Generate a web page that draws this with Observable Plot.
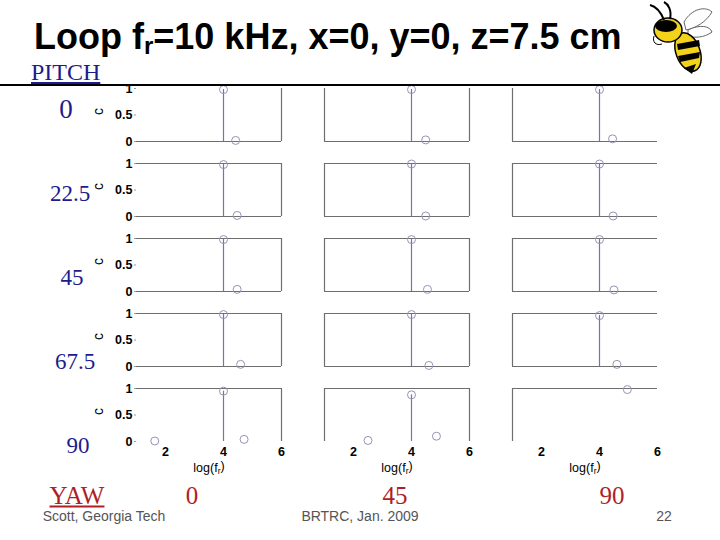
<!DOCTYPE html>
<html>
<head>
<meta charset="utf-8">
<script src="https://cdn.jsdelivr.net/npm/d3@7"></script>
<script src="https://cdn.jsdelivr.net/npm/@observablehq/plot@0.6"></script>
<style>
  html, body { margin: 0; padding: 0; background: #fff; }
  #slide { position: relative; width: 720px; height: 540px; overflow: hidden; background: #fff; }
  #slide > * { position: absolute; }
  .serif { font-family: "Liberation Serif", "Times New Roman", serif; }
  .sans { font-family: "Liberation Sans", Arial, sans-serif; }
  .pitch { color: #1c1c8c; font-size: 23px; line-height: 1; transform: translate(-50%, -50%); white-space: nowrap; }
  .yaw { color: #b01e28; font-size: 25px; line-height: 1; transform: translate(-50%, -50%); white-space: nowrap; }
  .foot { color: #555; font-size: 14px; line-height: 1; transform: translate(-50%, -50%); white-space: nowrap; }
</style>
</head>
<body>
<div id="slide">
  <div id="chart" style="left:0;top:0;"></div>
  <svg width="720" height="80" style="left:0;top:0;">
    <text x="34" y="49" class="sans" font-weight="bold" font-size="36" fill="#000">Loop f<tspan font-size="24" dy="5">r</tspan><tspan dy="-5">=10 kHz, x=0, y=0, z=7.5 cm</tspan></text>
  </svg>
  <svg width="72" height="80" style="left:644px;top:0px;" viewBox="0 0 72 80">
    <path d="M40 22 C48 8, 62 6, 68 12 C62 22, 52 28, 42 30 Z" fill="#fff" stroke="#666" stroke-width="1"/>
    <path d="M44 30 C56 24, 66 26, 68 32 C60 38, 50 38, 44 36 Z" fill="#fff" stroke="#666" stroke-width="1"/>
    <ellipse cx="44" cy="52" rx="12" ry="20" fill="#f2d21b" stroke="#000" stroke-width="1.5" transform="rotate(-20 44 52)"/>
    <path d="M33 44 L55 40 L56 46 L34 50 Z" fill="#000"/>
    <path d="M34 56 L56 52 L55 58 L36 62 Z" fill="#000"/>
    <path d="M40 68 L52 64 L48 74 Z" fill="#000"/>
    <ellipse cx="24" cy="30" rx="14" ry="12" fill="#f2d21b" stroke="#000" stroke-width="1.5"/>
    <ellipse cx="22" cy="26" rx="11" ry="6" fill="#000"/>
    <path d="M20 20 C16 10, 10 6, 6 5" fill="none" stroke="#000" stroke-width="2"/>
    <path d="M26 19 C28 10, 24 4, 20 2" fill="none" stroke="#000" stroke-width="2"/>
    <path d="M10 36 C8 42, 12 46, 18 44" fill="#fff" stroke="#000" stroke-width="1"/>
  </svg>
  <div class="serif" style="left:31px;top:60px;color:#1c1c8c;font-size:24px;line-height:1;text-decoration:underline;">PITCH</div>
  <div style="left:0;top:84px;width:720px;height:1.5px;background:#000;"></div>
  <div class="serif pitch" style="left:66px;top:109px;font-size:27px;">0</div>
  <div class="serif pitch" style="left:70px;top:193px;">22.5</div>
  <div class="serif pitch" style="left:72px;top:277px;">45</div>
  <div class="serif pitch" style="left:75px;top:361px;">67.5</div>
  <div class="serif pitch" style="left:78px;top:445px;">90</div>
  <div class="serif yaw" style="left:77px;top:495px;text-decoration:underline;">YAW</div>
  <div class="serif yaw" style="left:192px;top:495px;">0</div>
  <div class="serif yaw" style="left:395px;top:495px;">45</div>
  <div class="serif yaw" style="left:612px;top:495px;">90</div>
  <div class="sans foot" style="left:104px;top:516px;">Scott, Georgia Tech</div>
  <div class="sans foot" style="left:360px;top:516px;">BRTRC, Jan. 2009</div>
  <div class="sans foot" style="left:664px;top:516px;">22</div>
</div>
<script>
// Facet categories
const yaws = [0, 45, 90];
const pitches = [0, 22.5, 45, 67.5, 90];
// Tick values
const yTicks = [0, 0.5, 1];
const xTicks = [2, 4, 6];

// Points (one entry per circle marker)
const pointYaw   = [0, 0,   0, 0,   0, 0,   0, 0,   0, 0, 0,
                    45, 45, 45, 45, 45, 45, 45, 45, 45, 45, 45,
                    90, 90, 90, 90, 90, 90, 90, 90, 90];
const pointPitch = [0, 0, 22.5, 22.5, 45, 45, 67.5, 67.5, 90, 90, 90,
                    0, 0, 22.5, 22.5, 45, 45, 67.5, 67.5, 90, 90, 90,
                    0, 0, 22.5, 22.5, 45, 45, 67.5, 67.5, 90];
const pointLogF  = [4, 4.42, 4, 4.47, 4, 4.47, 4, 4.59, 4, 1.63, 4.71,
                    4, 4.49, 4, 4.49, 4, 4.55, 4, 4.60, 4, 2.50, 4.86,
                    4, 4.45, 4, 4.47, 4, 4.50, 4, 4.60, 4.96];
const pointC     = [0.98, 0.02, 0.98, 0.02, 0.98, 0.04, 0.98, 0.04, 0.95, 0.01, 0.04,
                    0.98, 0.03, 0.99, 0.01, 0.98, 0.04, 0.98, 0.02, 0.88, 0.02, 0.10,
                    0.98, 0.05, 0.99, 0.01, 0.98, 0.03, 0.96, 0.04, 0.98];
const pointStem  = [1, 0, 1, 0, 1, 0, 1, 0, 1, 0, 0,
                    1, 0, 1, 0, 1, 0, 1, 0, 1, 0, 0,
                    1, 0, 1, 0, 1, 0, 1, 0, 0];

const points = pointYaw.map((yaw, i) => ({
  yaw, pitch: pointPitch[i], logf: pointLogF[i], c: pointC[i], stem: pointStem[i] === 1
}));
const stems = points.filter(d => d.stem);

const cells = yaws.flatMap(yaw => pitches.map(pitch => ({yaw, pitch})));
const bottomEdges = cells.filter(d => d.pitch !== 90);
const topEdges = cells.filter(d => d.pitch !== 0);
const leftEdges = cells.filter(d => d.yaw !== 0);
const rightEdges = cells.filter(d => d.yaw !== 90);

const frameColor = "#6e6e6e";

const chart = Plot.plot({
  width: 720,
  height: 540,
  marginLeft: 135,
  marginRight: 63,
  marginTop: 87,
  marginBottom: 97.5,
  style: {background: "transparent", fontFamily: "'Liberation Sans', Arial, sans-serif", fontSize: "12px", overflow: "visible"},
  fx: {domain: yaws, paddingInner: 0.2308, paddingOuter: 0, axis: null},
  fy: {domain: pitches, paddingInner: 0.291, paddingOuter: 0, axis: null},
  x: {domain: [1, 6]},
  y: {domain: [0, 1]},
  marks: [
    Plot.ruleY(bottomEdges, {fx: "yaw", fy: "pitch", y: 0, x1: 1, x2: 6, stroke: frameColor, strokeWidth: 1.2}),
    Plot.ruleY(topEdges, {fx: "yaw", fy: "pitch", y: 1, x1: 1, x2: 6, stroke: frameColor, strokeWidth: 1.2}),
    Plot.ruleX(leftEdges, {fx: "yaw", fy: "pitch", x: 1, y1: 0, y2: 1, stroke: frameColor, strokeWidth: 1.2}),
    Plot.ruleX(rightEdges, {fx: "yaw", fy: "pitch", x: 6, y1: 0, y2: 1, stroke: frameColor, strokeWidth: 1.2}),
    Plot.axisY({ticks: yTicks, tickFormat: d => String(d), tickSize: 2, tickPadding: 2, stroke: "#999", fill: "#000", fontWeight: "bold", fontSize: 12.5, label: null}),
    Plot.axisX({ticks: xTicks, tickFormat: d => String(d), tickSize: 0, tickPadding: 6, fill: "#000", fontWeight: "bold", fontSize: 12.5, label: null}),
    Plot.text(pitches, {fx: () => 0, fy: d => d, frameAnchor: "left", dx: -38, rotate: -90, text: () => "c", fontSize: 14}),
    Plot.text(yaws, {fx: d => d, fy: () => 90, frameAnchor: "bottom", dy: 30, text: () => "log(f_r)", fontSize: 12.5}),
    Plot.ruleX(stems, {fx: "yaw", fy: "pitch", x: "logf", y1: 0, y2: "c", stroke: "#7474a8", strokeWidth: 1.2}),
    Plot.dot(points, {fx: "yaw", fy: "pitch", x: "logf", y: "c", r: 4, stroke: "#9494b4", strokeWidth: 1, fill: "none"})
  ]
});

d3.select(chart).selectAll("text").filter(function() { return this.textContent === "log(f_r)"; })
  .each(function() {
    const t = d3.select(this);
    t.text("log(f");
    t.append("tspan").attr("font-size", 8.5).attr("dy", "0.35em").text("r");
    t.append("tspan").attr("dy", "-0.35em").text(")");
  });

document.getElementById("chart").appendChild(chart);
</script>
</body>
</html>
